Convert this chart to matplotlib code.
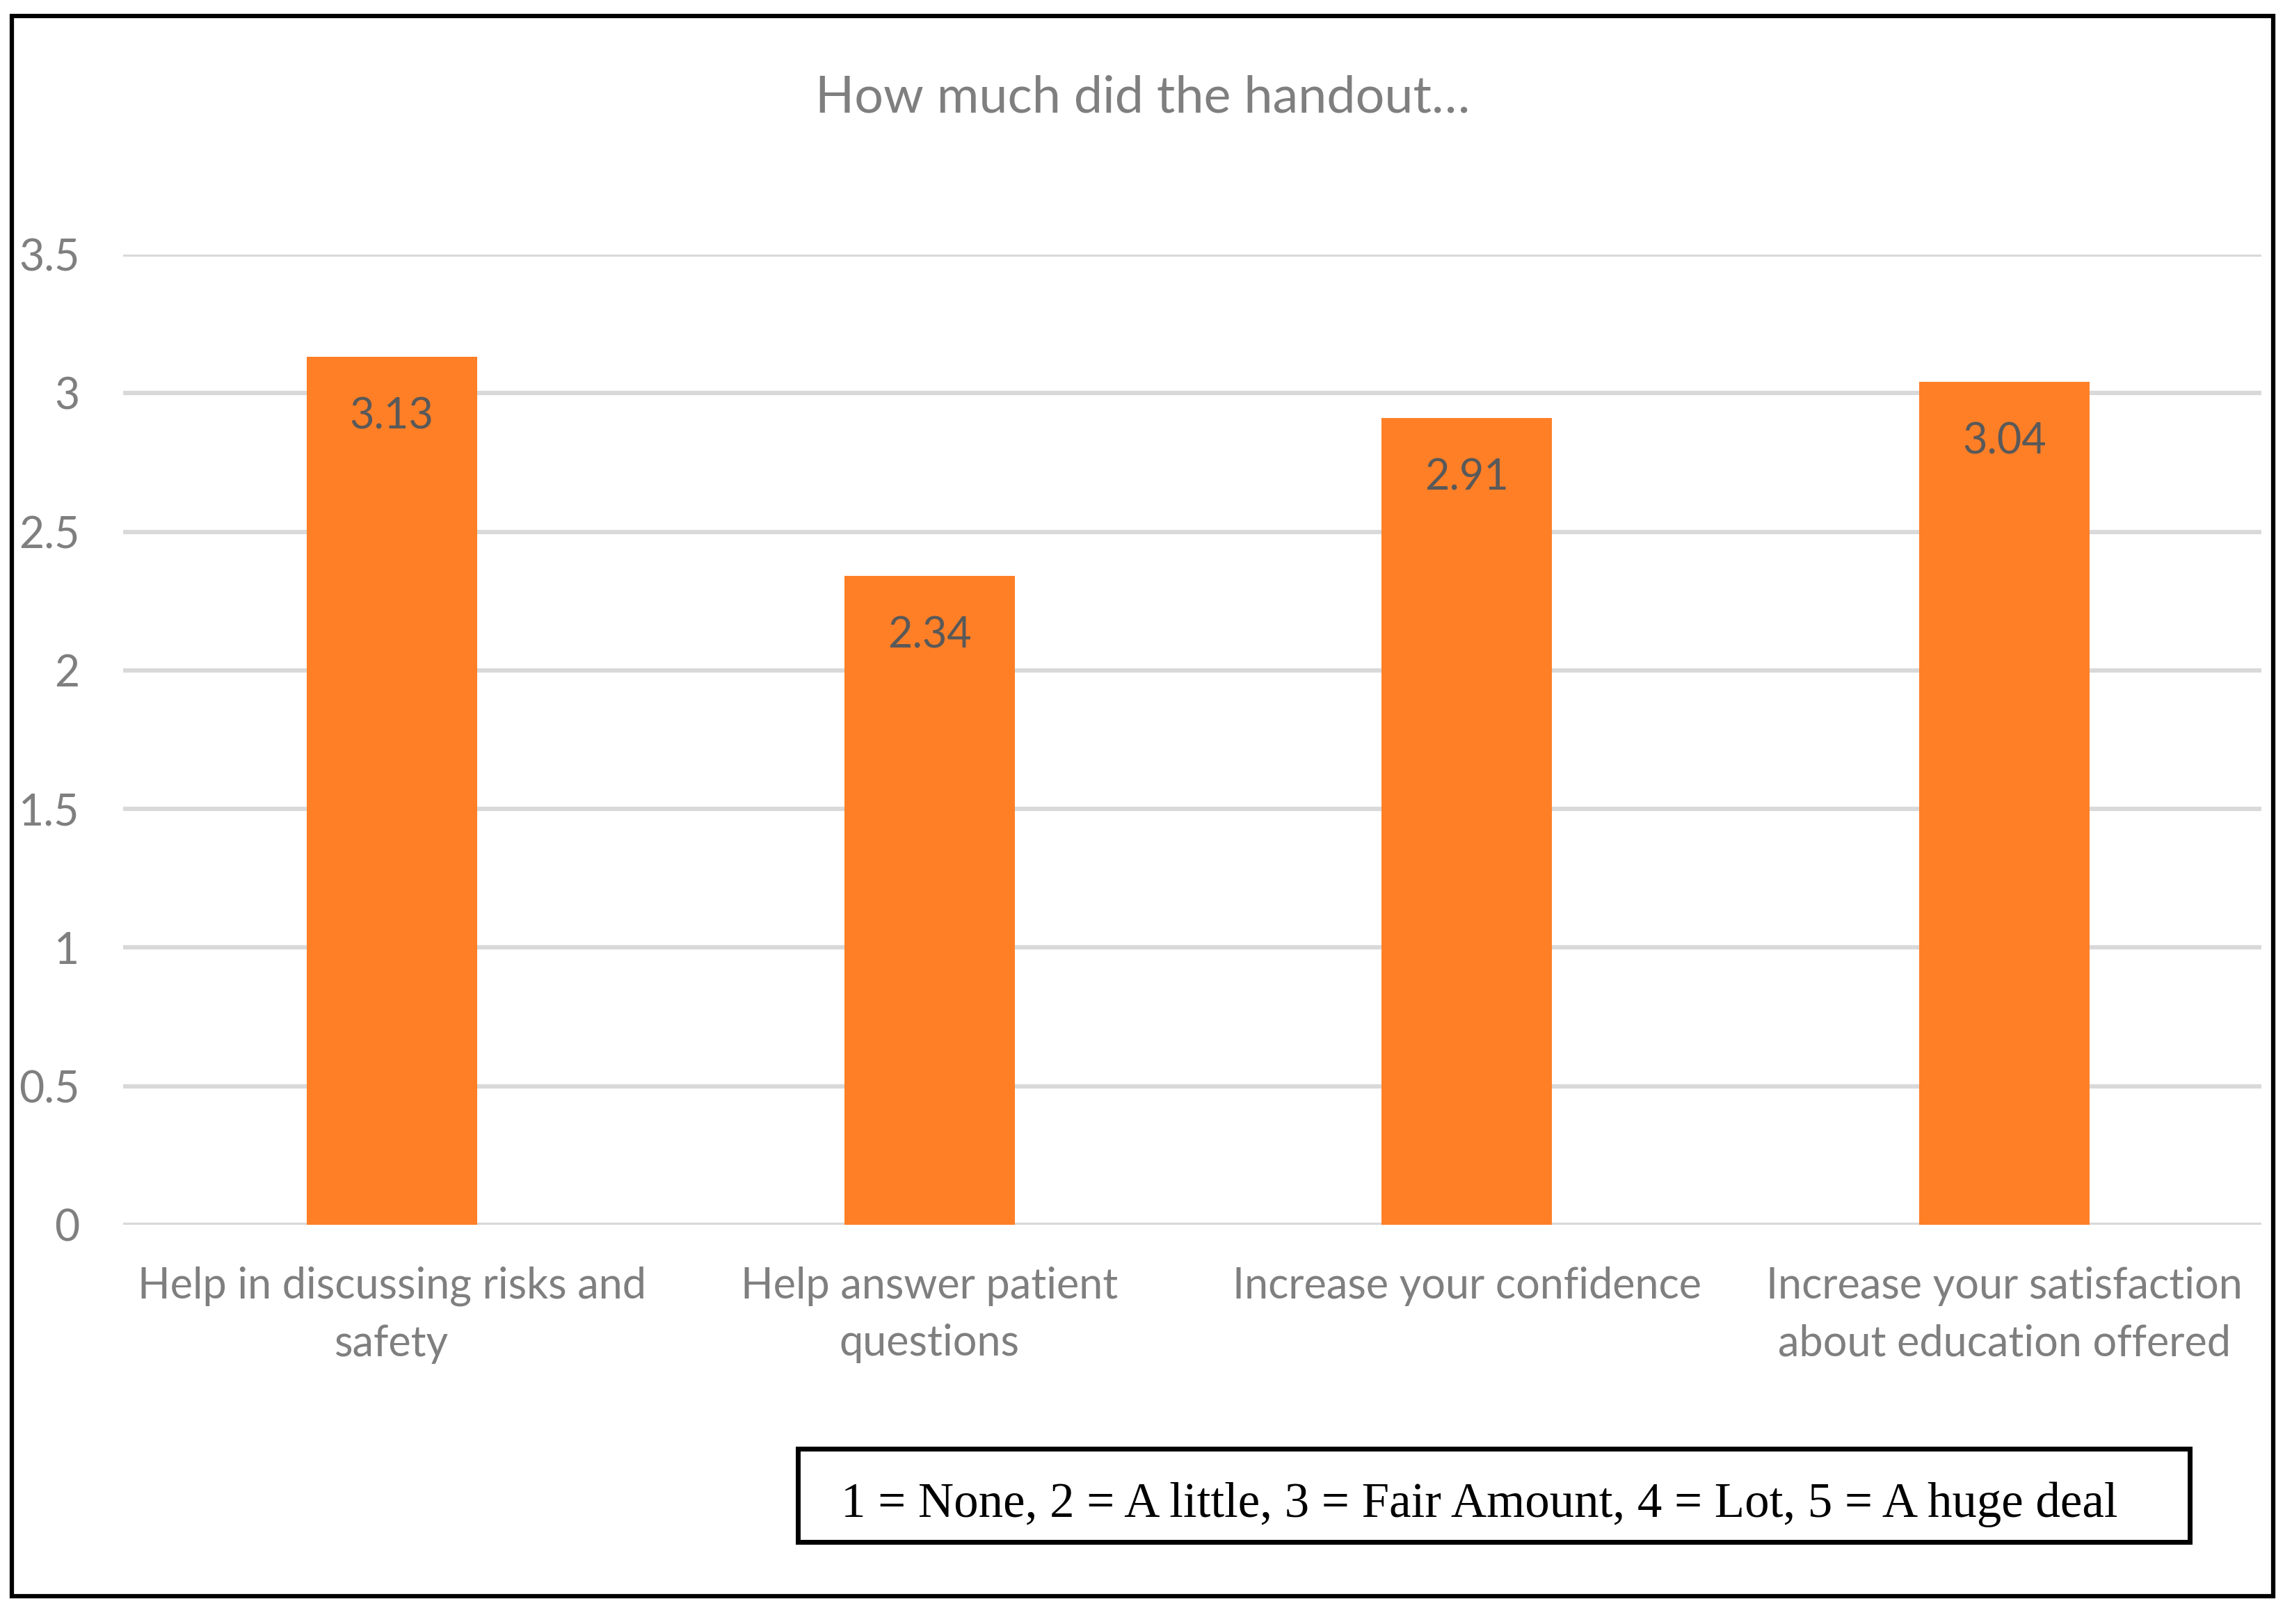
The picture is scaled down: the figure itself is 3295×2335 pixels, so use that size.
import matplotlib
matplotlib.use('Agg')
import matplotlib.pyplot as plt
from matplotlib.patches import Rectangle

# Data
categories = ['Help in discussing risks and\nsafety',
              'Help answer patient\nquestions',
              'Increase your confidence',
              'Increase your satisfaction\nabout education offered']
scores = [3.13, 2.34, 2.91, 3.04]
y_ticks = [0, 0.5, 1, 1.5, 2, 2.5, 3, 3.5]
y_tick_labels = ['0', '0.5', '1', '1.5', '2', '2.5', '3', '3.5']
title = 'How much did the handout…'
scale_note = '1 = None, 2 = A little, 3 = Fair Amount, 4 = Lot, 5 = A huge deal'

plt.rcParams['font.family'] = ['Lato', 'DejaVu Sans']
grey = '#7f7f7f'

fig = plt.figure(figsize=(32.95, 23.35), dpi=100)
ax = fig.add_axes([0.0537, 0.2458, 0.9329, 0.5975])

x = range(len(categories))
bars = ax.bar(x, scores, width=0.317, color='#FF7F27', zorder=3)
for rect, val in zip(bars, scores):
    ax.annotate(f'{val:.2f}', (rect.get_x() + rect.get_width() / 2, val),
                xytext=(0, -62), textcoords='offset points',
                ha='center', va='center', fontsize=44, color='#595959', zorder=4)

ax.set_xlim(-0.5, 3.478)
ax.set_ylim(0, 3.5)
ax.set_yticks(y_ticks)
ax.set_yticklabels(y_tick_labels)
ax.set_xticks(list(x))
ax.set_xticklabels(categories, linespacing=1.55)
ax.tick_params(axis='y', length=0, pad=45, labelsize=45, labelcolor=grey)
ax.tick_params(axis='x', length=0, pad=43, labelsize=44, labelcolor=grey)
ax.grid(axis='y', color='#d9d9d9', linewidth=4.5, zorder=0)
for s in ax.spines.values():
    s.set_visible(False)

fig.text(0.4986, 0.9395, title, ha='center', va='center', fontsize=53, color=grey)

# outer frame
fig.patches.append(Rectangle((0.00516, 0.01713), 0.98664, 0.97297, transform=fig.transFigure,
                             fill=False, edgecolor='black', linewidth=4.5))
# scale note box
fig.patches.append(Rectangle((0.3481, 0.0505), 0.6073, 0.0574, transform=fig.transFigure,
                             fill=False, edgecolor='black', linewidth=5))
fig.text(0.6455, 0.0735, scale_note, ha='center', va='center', fontsize=51,
         family=['Liberation Serif', 'DejaVu Serif'], color='black')

fig.savefig('out.png', dpi=100, facecolor='white')
